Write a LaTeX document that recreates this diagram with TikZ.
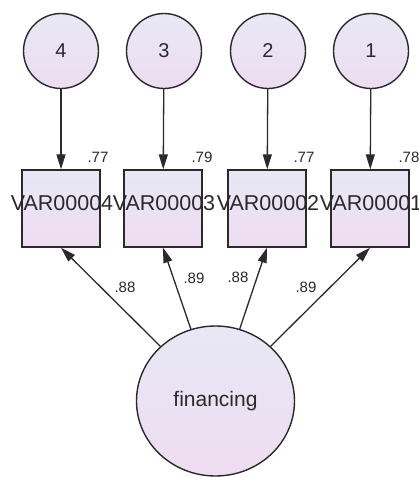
\documentclass[tikz,border=0pt]{standalone}
\usepackage{fontspec}
\setmainfont{Liberation Sans}
\usetikzlibrary{arrows.meta,shapes.geometric}
\definecolor{edge}{HTML}{2A2A2A}
\definecolor{filltop}{HTML}{E8E8F5}
\definecolor{fillbot}{HTML}{EEDCF0}
\begin{document}
\begin{tikzpicture}[x=1pt,y=-1pt,
  errc/.style={circle,draw=edge,line width=1.4pt,minimum size=75pt,inner sep=0pt,
    top color=filltop,bottom color=fillbot,font=\fontsize{20}{20}\selectfont,text=edge},
  obsbox/.style={rectangle,draw=edge,line width=1.4pt,minimum width=78pt,minimum height=77pt,inner sep=0pt,
    top color=filltop,bottom color=fillbot},
  lat/.style={ellipse,draw=edge,line width=1.4pt,minimum width=158pt,minimum height=150pt,inner sep=0pt,
    top color=filltop,bottom color=fillbot,font=\fontsize{21}{21}\selectfont,text=edge},
  vlabel/.style={font=\fontsize{21.5}{21.5}\selectfont,text=edge,inner sep=0pt},
  wlabel/.style={font=\fontsize{15}{15}\selectfont,text=edge,inner sep=0pt},
  arr/.style={draw=edge,line width=1.3pt,-{Triangle[length=15pt,width=9pt]}}
]
\useasboundingbox[fill=white] (0,0) rectangle (419,477);
% error terms
\node[errc] (e4) at (61,51) {4};
\node[errc] (e3) at (164,51) {3};
\node[errc] (e2) at (268,51) {2};
\node[errc] (e1) at (371,51) {1};
% observed boxes
\node[obsbox] (b4) at (61,208.5) {};
\node[obsbox] (b3) at (163,208.5) {};
\node[obsbox] (b2) at (267,208.5) {};
\node[obsbox] (b1) at (370,208.5) {};
% labels in boxes (overflow like the original)
\node[vlabel] (t4) at (62,203) {VAR00004};
\node[vlabel] (t3) at (164,203) {VAR00003};
\node[vlabel] (t2) at (268,203) {VAR00002};
\node[vlabel] (t1) at (371,203) {VAR00001};
% latent
\node[lat] (fin) at (215.5,401) {financing};
% arrows error -> box
\draw[arr] (e4) -- (b4);
\draw[arr] (e3) -- (b3);
\draw[arr] (e2) -- (b2);
\draw[arr] (e1) -- (b1);
% arrows latent -> box
\draw[arr] (fin) -- (b4.south);
\draw[arr] (fin) -- (b3.south);
\draw[arr] (fin) -- (b2.south);
\draw[arr] (fin) -- (b1.south);
% squared multiple correlations
\node[wlabel] (r4) at (98,157) {.77};
\node[wlabel] (r3) at (202,157) {.79};
\node[wlabel] (r2) at (304,157) {.77};
\node[wlabel] (r1) at (409,157) {.78};
% loadings
\node[wlabel] (l4) at (125,287) {.88};
\node[wlabel] (l3) at (194,278) {.89};
\node[wlabel] (l2) at (238,277) {.88};
\node[wlabel] (l1) at (306,287) {.89};
\end{tikzpicture}
\end{document}
